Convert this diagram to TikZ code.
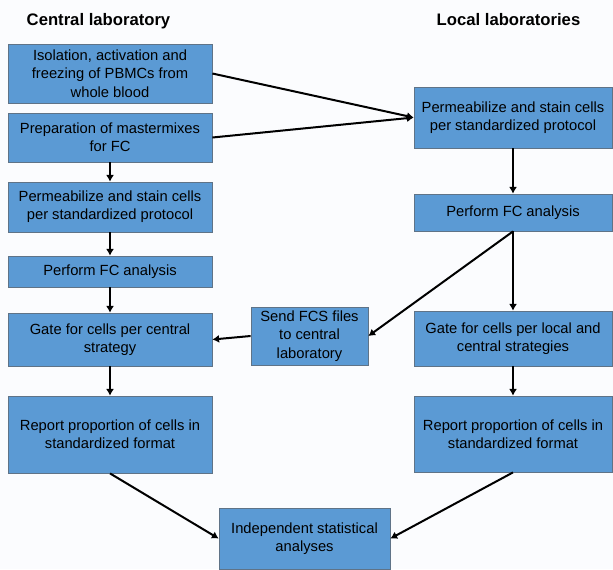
\documentclass[tikz,border=0pt]{standalone}
\usepackage{fontspec}
\setmainfont{Liberation Sans}
\usepackage{xcolor}
\usetikzlibrary{arrows.meta}
\definecolor{boxblue}{RGB}{91,154,212}
\definecolor{boxedge}{RGB}{95,115,135}
\definecolor{bgwhite}{RGB}{251,252,254}

\begin{document}
\begin{tikzpicture}[x=0.75pt,y=-0.75pt,
    box/.style={draw=boxedge,line width=0.6pt,fill=boxblue,align=center,
      inner sep=0pt,font=\fontsize{11.05}{13.7}\selectfont},
    title/.style={font=\fontsize{12.5}{15}\selectfont\bfseries},
    arr/.style={line width=1.5pt,-{Latex[length=5pt,width=6pt]}}]
      \fill[bgwhite] (0,0) rectangle (613,569);
      \useasboundingbox (0,0) rectangle (613,569);

      % column titles
      \node[title] (ctitle) at (98.5,21) {Central laboratory};
      \node[title] (ltitle) at (508.5,20) {Local laboratories};

      % central laboratory
      \node[box,minimum width=153pt,minimum height=44.25pt] (iso) at (110,73.5)
        {Isolation, activation and\\freezing of PBMCs from\\whole blood};
      \node[box,minimum width=153pt,minimum height=36.75pt] (prep) at (110,137.5)
        {Preparation of mastermixes\\for FC};
      \node[box,minimum width=153pt,minimum height=37.5pt] (permc) at (110,207)
        {Permeabilize and stain cells\\per standardized protocol};
      \node[box,minimum width=153pt,minimum height=23.25pt] (fcc) at (110,271.5)
        {Perform FC analysis};
      \node[box,minimum width=153pt,minimum height=39.75pt] (gatec) at (110,339.5)
        {Gate for cells per central\\strategy};
      \node[box,minimum width=153pt,minimum height=57.75pt] (repc) at (110,434.5)
        {Report proportion of cells in\\standardized format};

      % local laboratories
      \node[box,minimum width=148.5pt,minimum height=45.75pt] (perml) at (513,117.5)
        {Permeabilize and stain cells\\per standardized protocol};
      \node[box,minimum width=148.5pt,minimum height=27.75pt] (fcl) at (513,212.5)
        {Perform FC analysis};
      \node[box,minimum width=148.5pt,minimum height=41.25pt] (gatel) at (513,338.5)
        {Gate for cells per local and\\central strategies};
      \node[box,minimum width=148.5pt,minimum height=57pt] (repl) at (513,434)
        {Report proportion of cells in\\standardized format};

      \node[box,minimum width=87.75pt,minimum height=43.5pt] (send) at (309.5,336)
        {Send FCS files\\to central\\laboratory};
      \node[box,minimum width=128.25pt,minimum height=45.75pt] (indep) at (304.5,538.5)
        {Independent statistical\\analyses};

      \draw[arr] (iso.east) -- (perml.west);
      \draw[arr] (prep.east) -- (perml.west);
      \draw[arr] (prep) -- (permc);
      \draw[arr] (permc) -- (fcc);
      \draw[arr] (fcc) -- (gatec);
      \draw[arr] (gatec) -- (repc);
      \draw[arr] (perml) -- (fcl);
      \draw[arr] (fcl) -- (gatel);
      \draw[arr] (gatel) -- (repl);
      \draw[arr] (fcl.south) -- (send.east);
      \draw[arr] (send.west) -- (gatec.east);
      \draw[arr] (repc.south) -- (indep.west);
      \draw[arr] (repl.south) -- (indep.east);
\end{tikzpicture}
\end{document}
